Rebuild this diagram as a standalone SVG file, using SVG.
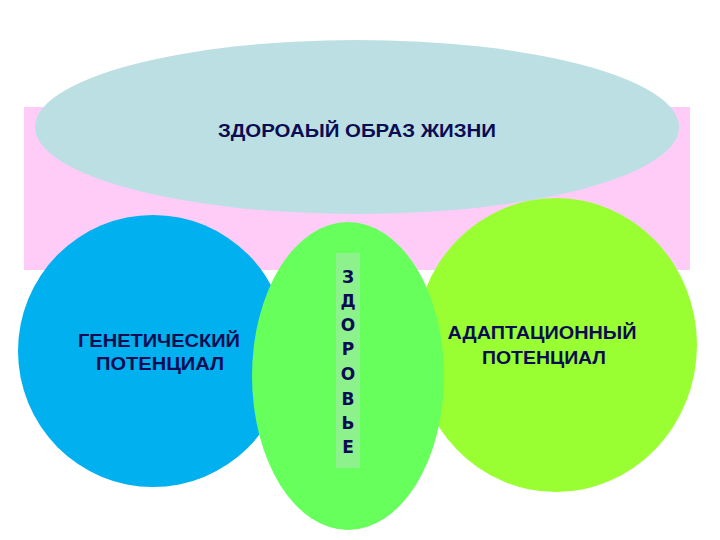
<svg xmlns="http://www.w3.org/2000/svg" width="720" height="540" viewBox="0 0 720 540">
<style>
.t{font-family:"Liberation Sans",Arial,sans-serif;font-weight:bold;fill:#0c0c52;text-anchor:middle}
.v{font-family:"DejaVu Sans","Liberation Sans",sans-serif;font-weight:bold;fill:#0c0c52;text-anchor:middle;font-size:17px}
</style>
<rect width="720" height="540" fill="#ffffff"/>
<rect x="24" y="107" width="666" height="163" fill="#ffccf8"/>
<g id="lifestyle">
<ellipse cx="357" cy="127" rx="322" ry="87" fill="#bcdfe3"/>
<text class="t" x="357" y="137" font-size="18" textLength="278" lengthAdjust="spacingAndGlyphs">ЗДОРОАЫЙ ОБРАЗ  ЖИЗНИ</text>
</g>
<g id="genetic">
<ellipse cx="153" cy="351" rx="135" ry="136" fill="#00b0ef"/>
<text class="t" x="159" y="347" font-size="18" textLength="162" lengthAdjust="spacingAndGlyphs">ГЕНЕТИЧЕСКИЙ</text>
<text class="t" x="160" y="370" font-size="18" textLength="128" lengthAdjust="spacingAndGlyphs">ПОТЕНЦИАЛ</text>
</g>
<g id="adaptive">
<ellipse cx="556" cy="345" rx="141" ry="147" fill="#99ff33"/>
<text class="t" x="542" y="339" font-size="18" textLength="189" lengthAdjust="spacingAndGlyphs">АДАПТАЦИОННЫЙ</text>
<text class="t" x="544" y="364" font-size="18" textLength="124" lengthAdjust="spacingAndGlyphs">ПОТЕНЦИАЛ</text>
</g>
<g id="health">
<ellipse cx="348" cy="376" rx="96" ry="154" fill="#66ff5c"/>
<rect x="336" y="253" width="24" height="215" fill="#8ef28c"/>
<text class="v" x="348" y="283">З</text>
<text class="v" x="348" y="307">Д</text>
<text class="v" x="348" y="331">О</text>
<text class="v" x="348" y="355">Р</text>
<text class="v" x="348" y="380">О</text>
<text class="v" x="348" y="405">В</text>
<text class="v" x="348" y="429">Ь</text>
<text class="v" x="348" y="453">Е</text>
</g>
<g id="connectors"></g>
</svg>
